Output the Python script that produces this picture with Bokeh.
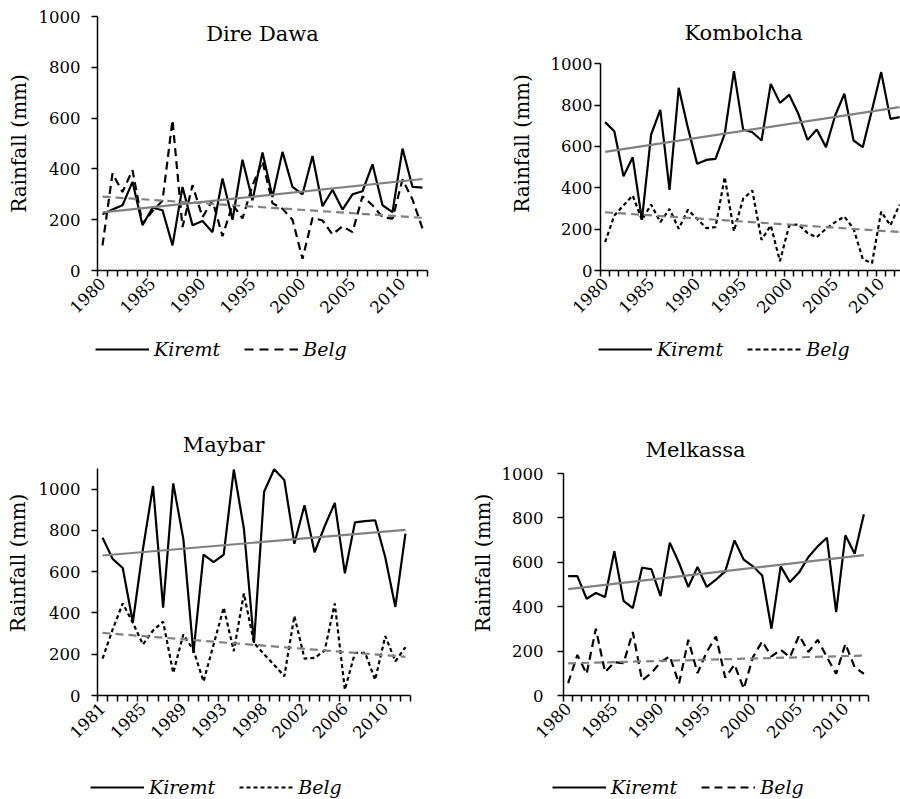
import numpy as np
from bokeh.plotting import figure
from bokeh.models import FixedTicker, Legend, LegendItem, Label, Range1d
from bokeh.layouts import column, row
from bokeh.embed import file_html
from bokeh.resources import INLINE

# ---------------- data ----------------
dd_years = [str(y) for y in range(1980, 2013)]
dd_kiremt = [221, 240, 257, 349, 178, 247, 237, 99, 329, 178, 195, 151, 362, 200, 436, 276, 465,
             289, 467, 329, 300, 451, 253, 318, 240, 300, 312, 418, 257, 230, 480, 329, 326]
dd_belg = [99, 382, 309, 395, 184, 234, 275, 592, 171, 336, 210, 276, 135, 260, 205, 335, 430,
           265, 243, 200, 46, 207, 197, 142, 174, 151, 292, 257, 210, 204, 358, 280, 165]

ko_years = [str(y) for y in range(1980, 2013)]
ko_kiremt = [718, 674, 456, 548, 245, 658, 777, 390, 884, 690, 516, 535, 540, 661, 965, 682, 669,
             629, 903, 811, 850, 758, 632, 682, 597, 750, 855, 629, 597, 777, 960, 734, 742]
ko_belg = [137, 266, 315, 363, 245, 319, 234, 298, 202, 294, 250, 205, 210, 452, 190, 347, 387,
           148, 218, 45, 218, 223, 181, 161, 202, 234, 261, 202, 56, 35, 285, 218, 319]

mb_years = [str(y) for y in list(range(1981, 1997)) + list(range(1998, 2013))]
mb_kiremt = [764, 662, 618, 355, 710, 1015, 426, 1028, 759, 207, 683, 646, 683, 1095, 808, 255,
             987, 1096, 1044, 735, 922, 694, 820, 933, 592, 839, 845, 849, 670, 429, 784]
mb_belg = [179, 320, 446, 353, 247, 315, 358, 109, 296, 220, 68, 247, 426, 215, 494, 255,
           200, 148, 93, 385, 179, 182, 218, 446, 28, 207, 207, 76, 288, 166, 234]

me_years = [str(y) for y in range(1980, 2013)]
me_kiremt = [538, 538, 436, 462, 444, 650, 426, 394, 576, 569, 448, 689, 597, 489, 579, 489, 522,
             559, 699, 612, 582, 541, 301, 582, 511, 555, 624, 672, 711, 376, 722, 639, 817]
me_belg = [56, 183, 98, 301, 105, 150, 146, 286, 68, 100, 150, 177, 53, 251, 101, 196, 266,
           80, 140, 30, 173, 244, 176, 206, 173, 271, 196, 251, 173, 98, 233, 128, 98]

y_ticks = [0, 200, 400, 600, 800, 1000]
series_names = ["Kiremt", "Belg"]

FONT = "DejaVu Serif"
GREY = "#808080"


def panel(cats, kir, belg, name, step, ytop, yview, w, h, bl, br, bt, bb, dash,
          tfx, tfy, xend=None, lab_stand=8, tick_stand=10):
    n = len(cats)
    x = list(range(n))
    x0, x1 = -0.5, (xend if xend is not None else n - 0.5)
    p = figure(width=w, height=h, output_backend="svg", toolbar_location=None,
               x_range=Range1d(x0, x1), y_range=Range1d(0, yview),
               min_border_left=bl, min_border_right=br, min_border_top=bt, min_border_bottom=bb)
    p.outline_line_color = None
    p.grid.visible = False
    p.background_fill_color = "white"
    p.border_fill_color = "white"

    xa = p.xaxis[0]
    xa.ticker = FixedTicker(ticks=list(range(0, n, step)),
                            minor_ticks=[i - 0.5 for i in range(n + 1)])
    xa.major_label_overrides = {i: cats[i] for i in range(0, n, step)}
    xa.major_label_orientation = np.pi / 4
    xa.major_tick_out = 0
    xa.major_tick_in = 0
    xa.minor_tick_out = 6
    xa.minor_tick_in = 0
    xa.minor_tick_line_width = 1.5
    xa.minor_tick_line_color = "black"
    xa.axis_line_width = 1.5
    xa.axis_line_color = "black"
    xa.major_label_text_font = FONT
    xa.major_label_text_font_size = "16.5px"
    xa.major_label_text_color = "black"
    xa.major_label_standoff = 4

    ya = p.yaxis[0]
    ya.ticker = FixedTicker(ticks=y_ticks, minor_ticks=[])
    ya.bounds = (0, ytop)
    ya.major_tick_out = 6
    ya.major_tick_in = 0
    ya.major_tick_line_width = 1.5
    ya.major_tick_line_color = "black"
    ya.minor_tick_out = 0
    ya.minor_tick_in = 0
    ya.axis_line_width = 1.5
    ya.axis_line_color = "black"
    ya.major_label_text_font = FONT
    ya.major_label_text_font_size = "16.5px"
    ya.major_label_text_color = "black"
    ya.major_label_standoff = tick_stand
    ya.axis_label = "Rainfall (mm)"
    ya.axis_label_text_font = FONT
    ya.axis_label_text_font_size = "20px"
    ya.axis_label_text_font_style = "normal"
    ya.axis_label_text_color = "black"
    ya.axis_label_standoff = lab_stand

    p.line(x, kir, line_color="black", line_width=2.2)
    p.line(x, belg, line_color="black", line_width=2.2, line_dash=dash)

    ends = [0, n - 1]
    ck = np.polyfit(x, kir, 1)
    cb = np.polyfit(x, belg, 1)
    p.line(ends, list(np.polyval(ck, ends)), line_color=GREY, line_width=2.2)
    p.line(ends, list(np.polyval(cb, ends)), line_color=GREY, line_width=2.2, line_dash="8 5")

    lab = Label(x=x0 + tfx * (x1 - x0), y=tfy * yview, text=name, text_align="center",
                text_baseline="middle", text_font=FONT, text_font_size="21px",
                text_color="black")
    p.add_layout(lab)
    return p


def legend_fig(w, h, legend_dash, lx, ly):
    f = figure(width=w, height=h, output_backend="svg", toolbar_location=None,
               x_range=Range1d(0, 1), y_range=Range1d(0, 1),
               x_axis_location=None, y_axis_location=None,
               min_border=0, min_border_left=0, min_border_right=0,
               min_border_top=0, min_border_bottom=0)
    f.outline_line_color = None
    f.grid.visible = False
    f.background_fill_color = "white"
    f.border_fill_color = "white"
    g1 = f.line([np.nan], [np.nan], line_color="black", line_width=2.2)
    g2 = f.line([np.nan], [np.nan], line_color="black", line_width=2.2, line_dash=legend_dash)
    leg = Legend(items=[LegendItem(label=series_names[0], renderers=[g1]),
                        LegendItem(label=series_names[1], renderers=[g2])],
                 orientation="horizontal", location=(lx, ly),
                 label_text_font=FONT, label_text_font_style="italic",
                 label_text_font_size="19px", label_text_color="black",
                 glyph_width=54, glyph_height=20, spacing=24, padding=2, margin=0,
                 label_standoff=5,
                 border_line_color=None, background_fill_alpha=0)
    f.add_layout(leg)
    return f


# top row: frames span y 16..270 ; bottom row: frames span y 430..695
p1 = panel(dd_years, dd_kiremt, dd_belg, "Dire Dawa", 5, 1000, 1000, 450, 335, 97, 23, 16, 65,
           "8 5", 0.5, 0.933, lab_stand=5, tick_stand=11)
p2 = panel(ko_years, ko_kiremt, ko_belg, "Kombolcha", 5, 1000, 1229, 450, 335, 150, 0, 16, 65,
           "4 3", 0.477, 1147 / 1229, xend=32.1, lab_stand=14, tick_stand=2)
p3 = panel(mb_years, mb_kiremt, mb_belg, "Maybar", 4, 1100, 1284, 450, 370, 97, 40, 40, 65,
           "4 3", 0.403, 1216 / 1284, lab_stand=6, tick_stand=11)
p4 = panel(me_years, me_kiremt, me_belg, "Melkassa", 5, 1000, 1194, 450, 370, 113, 32, 40, 65,
           "8 5", 0.433, 1104 / 1194, lab_stand=4, tick_stand=14)

l1 = legend_fig(450, 55, "9 6", 95, 30)
l2 = legend_fig(450, 55, "5 3", 148, 30)
l3 = legend_fig(450, 39, "4 3", 90, 1)
l4 = legend_fig(450, 39, "8 5", 102, 1)

layout = column(row(p1, p2), row(l1, l2), row(p3, p4), row(l3, l4))
open("out.html", "w").write(file_html(layout, INLINE))
